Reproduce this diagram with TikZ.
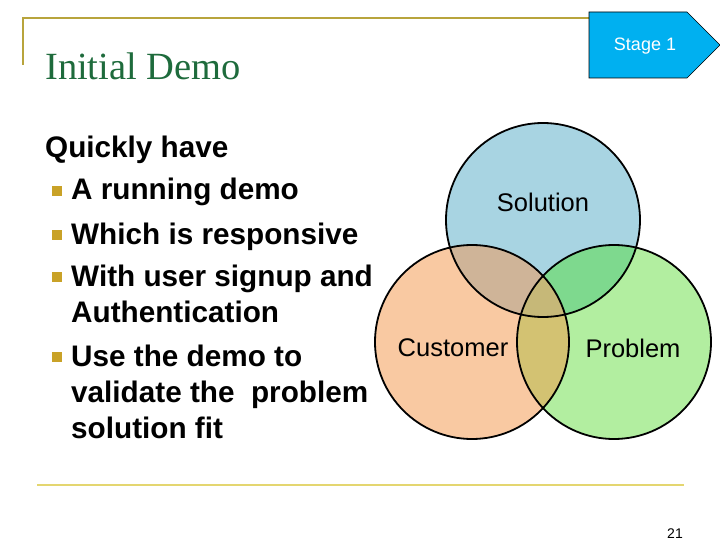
\documentclass[tikz,border=0pt]{standalone}
\usepackage{fontspec}
\setmainfont{Liberation Sans}
\newfontfamily\titlefont{Liberation Serif}
\usepackage{xcolor}
\usetikzlibrary{positioning}
\definecolor{rulegold}{HTML}{B8A43C}
\definecolor{rulelight}{HTML}{E4D670}
\definecolor{titlegreen}{HTML}{1E6B3C}
\definecolor{stageblue}{HTML}{00B0F0}
\definecolor{bulletgold}{HTML}{C9A227}
\definecolor{solfill}{HTML}{A8D4E2}
\definecolor{custfill}{HTML}{F9C9A2}
\definecolor{probfill}{HTML}{B2EEA0}
\definecolor{solcust}{HTML}{CFB498}
\definecolor{solprob}{HTML}{7ED98E}
\definecolor{custprob}{HTML}{D3C272}
\definecolor{allthree}{HTML}{C6B878}
\newcommand{\vr}{97}
\tikzset{
  line/.style={anchor=base west, inner sep=0pt, font=\fontsize{29.7}{36}\selectfont\bfseries, align=left},
  bullet/.style={fill=bulletgold, minimum size=10pt, inner sep=0pt},
  venn/.style={font=\fontsize{25.5}{28}\selectfont, inner sep=0pt}
}
\begin{document}
\begin{tikzpicture}[x=1pt, y=1pt]
        \useasboundingbox (0, 0) rectangle (720, -540);

        \draw [rulegold, line width=2pt] (23, -65) -- (23, -18) -- (590, -18);
        \draw [rulelight, line width=2.5pt] (37, -485) -- (684, -485);

        \draw [fill=stageblue, line width=0.6pt] (589, -12) -- (687, -12) -- (720, -45) -- (687, -78) -- (589, -78) -- cycle;
        \node (stage) at (645, -46) {\fontsize{18}{20}\selectfont\color{white} Stage 1};

        \node [anchor=base west, inner sep=0pt, text=titlegreen] (title) at (45, -80) {\titlefont\fontsize{38.5}{44}\selectfont Initial Demo};

        % base of a multi-line node is its last line
        \node [line] (intro) at (45, -158) {Quickly have};
        \node [line] (item1) at (71, -200) {A running demo};
        \node [line] (item2) at (71, -244) {Which is responsive};
        \node [line] (item3) at (71, -322) {With user signup and\\Authentication};
        \node [line] (item4) at (71, -438) {Use the demo to\\validate the\ \ problem\\solution fit};
        \node [bullet] (b1) at (57, -191) {};
        \node [bullet] (b2) at (57, -235) {};
        \node [bullet] (b3) at (57, -277) {};
        \node [bullet] (b4) at (57, -357) {};

        \coordinate (sol) at (543, -220);
        \coordinate (cust) at (472, -342);
        \coordinate (prob) at (614, -342);

        \fill [solfill] (sol) circle (\vr);
        \fill [custfill] (cust) circle (\vr);
        \fill [probfill] (prob) circle (\vr);
        \begin{scope}
            \clip (sol) circle (\vr);
            \fill [solcust] (cust) circle (\vr);
            \fill [solprob] (prob) circle (\vr);
        \end{scope}
        \begin{scope}
            \clip (cust) circle (\vr);
            \fill [custprob] (prob) circle (\vr);
            \clip (prob) circle (\vr);
            \fill [allthree] (sol) circle (\vr);
        \end{scope}
        \draw [line width=1.8pt] (sol) circle (\vr);
        \draw [line width=1.8pt] (cust) circle (\vr);
        \draw [line width=1.8pt] (prob) circle (\vr);

        \node [venn] (solution) at (543, -202) {Solution};
        \node [venn] (customer) at (453, -348) {Customer};
        \node [venn] (problem) at (633, -348) {Problem};

        \node [anchor=base east, inner sep=0pt] (page) at (683, -538) {\fontsize{14}{16}\selectfont 21};
    \end{tikzpicture}
\end{document}
